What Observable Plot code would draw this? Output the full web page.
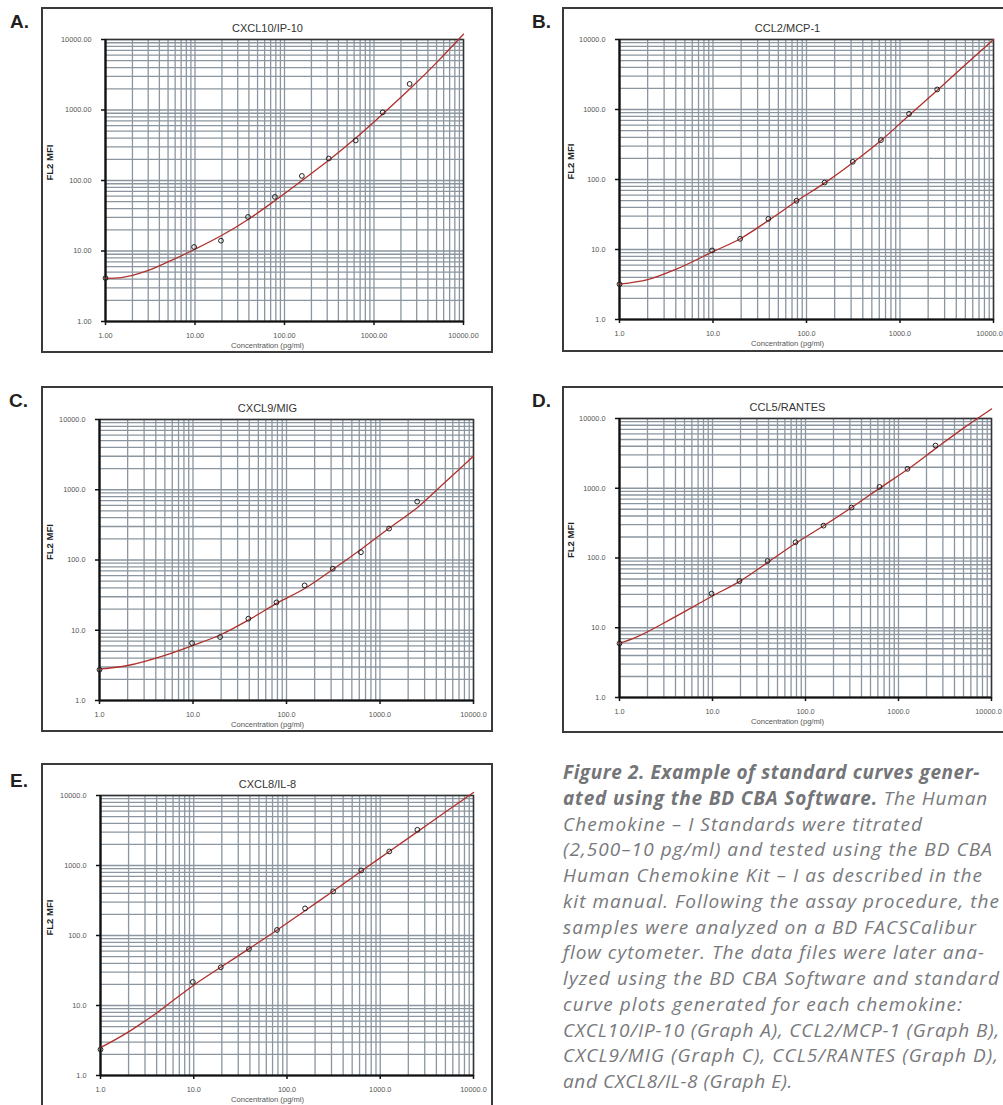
<!DOCTYPE html>
<html>
<head>
<meta charset="utf-8">
<script src="https://cdn.jsdelivr.net/npm/d3@7"></script>
<script src="https://cdn.jsdelivr.net/npm/@observablehq/plot@0.6"></script>
<style>
  body { margin: 0; background: #fff; }
  #page { position: relative; width: 1003px; height: 1105px; overflow: hidden; background: #fff; }
  .panel { position: absolute; box-sizing: border-box; border: 2px solid #3a3a3a; background: #fff; }
  .panel svg { position: absolute; left: 0; top: 0; overflow: visible; }
  .letter { position: absolute; font: bold 19px "Liberation Sans", Arial, sans-serif; color: #231f20; line-height: 1; }
  #caption { position: absolute; left: 563px; top: 760px; width: 470px; white-space: pre;
             font: italic 19px/25.75px "Open Sans", "Noto Sans", sans-serif; color: #78797c; }
  #caption span { display: inline-block; }
  #caption b { font-weight: bold; color: #747578; }
</style>
</head>
<body>
<div id="page"></div>
<script>
// ---------- data ----------
const panelLetters = ["A.", "B.", "C.", "D.", "E."];
const panelTitles = ["CXCL10/IP-10", "CCL2/MCP-1", "CXCL9/MIG", "CCL5/RANTES", "CXCL8/IL-8"];
const xLabel = "Concentration (pg/ml)";
const yLabel = "FL2 MFI";
const majorTicks = [1, 10, 100, 1000, 10000];
const tickDecimals = [2, 1, 1, 1, 1];

// standard concentrations (0 pg/ml plotted at 1.0)
const conc = [1, 9.77, 19.5, 39.1, 78.1, 156.3, 312.5, 625, 1250, 2500];
const mfiA = [4.13, 11.4, 14.0, 30.4, 58.6, 116, 205, 370, 926, 2343];
const mfiB = [3.19, 9.7, 14.2, 27.4, 49.6, 90.6, 179, 365, 867, 1931];
const mfiC = [2.74, 6.56, 8.0, 14.6, 24.9, 43.5, 75.2, 129, 280, 678];
const mfiD = [5.96, 30.8, 46.7, 90.6, 168, 291, 528, 1045, 1896, 4096];
const mfiE = [2.35, 21.7, 35.2, 64.2, 120, 244, 427, 851, 1588, 3236];

// fitted standard curves
const fitXA = [1, 1.5, 3, 5, 10, 20, 40, 80, 160, 320, 640, 1280, 2560, 5000, 10000];
const fitYA = [4.1, 4.2, 5.3, 7.0, 10.6, 16.7, 28.5, 53, 102, 198, 410, 900, 2030, 4700, 11900];
const fitXB = [1, 2, 4, 10, 20, 40, 80, 160, 320, 640, 1280, 2560, 5000, 10000];
const fitYB = [3.2, 3.7, 5.2, 9.3, 14.5, 26.5, 50, 91, 178, 370, 850, 1930, 4360, 10000];
const fitXC = [1, 2, 5, 10, 20, 40, 80, 160, 320, 640, 1280, 2560, 5000, 10000];
const fitYC = [2.8, 3.15, 4.4, 6.1, 8.7, 14.2, 24.5, 40, 75, 145, 290, 570, 1290, 3000];
const fitXD = [1, 1.5, 3, 10, 20, 40, 80, 160, 320, 640, 1280, 2560, 5000, 10000];
const fitYD = [6.0, 7.3, 11.7, 28.5, 47, 88, 165, 295, 540, 1020, 1900, 3790, 7280, 13700];
const fitXE = [1, 2, 3, 4, 6, 10, 20, 40, 80, 160, 320, 640, 1280, 2560, 5000, 10000];
const fitYE = [2.5, 4.2, 6.0, 7.8, 11.8, 19.5, 36, 66, 122, 232, 440, 850, 1620, 3100, 5800, 11040];

const mfiSeries = [mfiA, mfiB, mfiC, mfiD, mfiE];
const fitXs = [fitXA, fitXB, fitXC, fitXD, fitXE];
const fitYs = [fitYA, fitYB, fitYC, fitYD, fitYE];

const captionLines = [
  ["Figure 2. Example of standard curves gener-", ""],
  ["ated using the BD CBA Software.", " The Human"],
  ["", "Chemokine – I Standards were titrated"],
  ["", "(2,500–10 pg/ml) and tested using the BD CBA"],
  ["", "Human Chemokine Kit – I as described in the"],
  ["", "kit manual. Following the assay procedure, the"],
  ["", "samples were analyzed on a BD FACSCalibur"],
  ["", "flow cytometer. The data files were later ana-"],
  ["", "lyzed using the BD CBA Software and standard"],
  ["", "curve plots generated for each chemokine:"],
  ["", "CXCL10/IP-10 (Graph A), CCL2/MCP-1 (Graph B),"],
  ["", "CXCL9/MIG (Graph C), CCL5/RANTES (Graph D),"],
  ["", "and CXCL8/IL-8 (Graph E)."]
];

// ---------- layout (page pixels) ----------
const layout = [
  {box: [41, 7, 493, 353],   frame: [105, 39, 463, 321], letter: [10, 12], yLabelDx: -56, lastTickDx: 0},
  {box: [562, 7, 1012, 352], frame: [619, 39, 993, 319], letter: [532, 12], yLabelDx: -49, lastTickDx: -4},
  {box: [41, 386, 493, 732], frame: [99, 419, 473, 700], letter: [9, 391], yLabelDx: -50, lastTickDx: 0},
  {box: [562, 386, 1012, 733], frame: [619, 418, 991, 697], letter: [532, 391], yLabelDx: -49, lastTickDx: -3},
  {box: [41, 763, 493, 1120], frame: [100, 795, 473, 1075], letter: [10, 771], yLabelDx: -51, lastTickDx: 0}
];
// rendered width of each caption line in the reference (px)
const captionWidths = [417, 425, 360, 430, 420, 437, 414, 422, 437, 400, 437, 436, 230];

const page = document.getElementById("page");
const minorTicks = d3.scaleLog().domain([1, 10000]).ticks(40);
const gridColor = "#8b96a0";
const tickFont = 7.3, tickSize = 4, tickPad = 7;

layout.forEach((L, i) => {
  const [bx0, by0, bx1, by1] = L.box;
  const [fx0, fy0, fx1, fy1] = L.frame;
  const bw = 2;
  const ox = bx0 + bw, oy = by0 + bw;
  const W = bx1 - bx0 - 2 * bw, H = by1 - by0 - 2 * bw;
  const marginLeft = fx0 - ox, marginTop = fy0 - oy;
  const marginRight = ox + W - fx1, marginBottom = oy + H - fy1;
  const centerDx = (bx0 + bx1) / 2 - (fx0 + fx1) / 2;

  const pts = conc.map((c, k) => ({x: c, y: mfiSeries[i][k]}));
  const fit = fitXs[i].map((x, k) => ({x, y: fitYs[i][k]}));
  const fmt = d => d.toFixed(tickDecimals[i]);
  const last = majorTicks[majorTicks.length - 1];
  const nudge = L.lastTickDx !== 0;

  const chart = Plot.plot({
    width: W, height: H,
    marginLeft, marginTop, marginRight, marginBottom,
    x: {type: "log", domain: [1, 10000]},
    y: {type: "log", domain: [1, 10000]},
    style: {fontFamily: "'Liberation Sans', Arial, sans-serif", fontSize: tickFont + "px", color: "#555555", background: "transparent", overflow: "visible"},
    marks: [
      Plot.gridX(minorTicks, {stroke: gridColor, strokeOpacity: 1, strokeWidth: 1.3}),
      Plot.gridY(minorTicks, {stroke: gridColor, strokeOpacity: 1, strokeWidth: 1.3}),
      Plot.frame({stroke: "#333333", strokeWidth: 1.5}),
      Plot.axisX(majorTicks, {anchor: "bottom", tickSize, tickPadding: tickPad,
        tickFormat: d => (nudge && d === last) ? "" : fmt(d),
        stroke: "#111111", strokeWidth: 1.5, fill: "#555555", label: null}),
      nudge ? Plot.text([last], {x: d => d, text: fmt, frameAnchor: "bottom", lineAnchor: "top",
        dy: tickSize + tickPad, dx: L.lastTickDx, fontSize: tickFont, fill: "#555555"}) : null,
      Plot.axisY(majorTicks, {anchor: "left", tickSize, tickPadding: 10, tickFormat: fmt, stroke: "#111111", strokeWidth: 1.5, fill: "#555555", label: null}),
      Plot.ruleX([1], {stroke: "#111111", strokeWidth: 2.2}),
      Plot.ruleY([1], {stroke: "#111111", strokeWidth: 2.2}),
      Plot.line(fit, {x: "x", y: "y", stroke: "#b0302b", strokeWidth: 1.3, curve: "monotone-x"}),
      Plot.dot(pts, {x: "x", y: "y", r: 2.4, stroke: "#222222", strokeWidth: 1, fill: "none"}),
      Plot.text([panelTitles[i]], {text: d => d, frameAnchor: "top", dy: -15, dx: centerDx, fontSize: 11, fill: "#333333"}),
      Plot.text([xLabel], {text: d => d, frameAnchor: "bottom", dy: 26, dx: centerDx, fontSize: 7.6, fill: "#555555"}),
      Plot.text([yLabel], {text: d => d, frameAnchor: "left", dx: L.yLabelDx, rotate: -90, fontSize: 9.5, fontWeight: "bold", fill: "#222222"})
    ]
  });

  const div = document.createElement("div");
  div.className = "panel";
  div.style.left = bx0 + "px";
  div.style.top = by0 + "px";
  div.style.width = (bx1 - bx0) + "px";
  div.style.height = (by1 - by0) + "px";
  div.appendChild(chart);
  page.appendChild(div);

  const letter = document.createElement("div");
  letter.className = "letter";
  letter.textContent = panelLetters[i];
  letter.style.left = L.letter[0] + "px";
  letter.style.top = L.letter[1] + "px";
  page.appendChild(letter);
});

const cap = document.createElement("div");
cap.id = "caption";
page.appendChild(cap);
captionLines.forEach(([b, t], k) => {
  const span = document.createElement("span");
  if (b) { const e = document.createElement("b"); e.textContent = b; span.appendChild(e); }
  if (t) span.appendChild(document.createTextNode(t));
  cap.appendChild(span);
  if (k < captionLines.length - 1) cap.appendChild(document.createElement("br"));
  // fit letter spacing so this line spans its reference width
  const w0 = span.getBoundingClientRect().width;
  const n = (b + t).length;
  span.style.letterSpacing = ((captionWidths[k] - w0) / n).toFixed(3) + "px";
});
</script>
</body>
</html>
